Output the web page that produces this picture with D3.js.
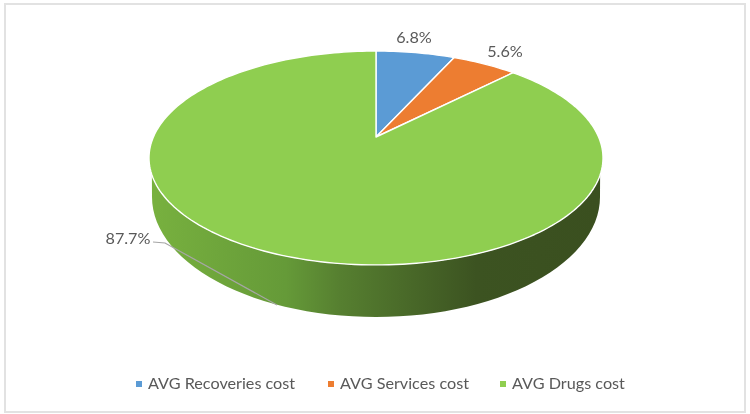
<!DOCTYPE html>
<html lang="en">
<head>
  <meta charset="utf-8" />
  <title>AVG cost split</title>
  <script src="https://d3js.org/d3.v7.min.js"></script>
  <style>
    html, body { margin: 0; background: #fff; }
    svg { display: block; filter: blur(0.4px); }
    text { font-family: Lato, "Open Sans", sans-serif; fill: #595959; }
  </style>
</head>
<body>
  <div id="graph"></div>
  <script>
    // Chart data
    const categories = ["AVG Recoveries cost", "AVG Services cost", "AVG Drugs cost"];
    const shares = [6.8, 5.6, 87.7];
    const labels = ["6.8%", "5.6%", "87.7%"];
    const colors = ["#5b9bd5", "#ed7d31", "#8fce50"];

    const width = 750;
    const height = 414;

    const svg = d3.select("#graph").append("svg")
      .attr("width", width)
      .attr("height", height);

    svg.append("rect")
      .attr("x", 5).attr("y", 4)
      .attr("width", 740).attr("height", 408)
      .attr("fill", "#fff")
      .attr("stroke", "#e2e2e2")
      .attr("stroke-width", 2);

    // The pie lies tilted, so the apex sits above the middle of the ellipse.
    // persp maps a point of the unit disc to the screen.
    const cx = 376;
    const persp = { k: 222.6, a: 76, b: 137, c: -0.196 };
    function project(angle, r) {
      const x = r * Math.sin(angle);
      const y = -r * Math.cos(angle);
      const w = 1 + persp.c * y;
      return [cx + persp.k * x / w, (persp.a * y + persp.b) / w];
    }

    // Slice outline through the projection
    function slicePath(d) {
      const steps = Math.max(2, Math.ceil((d.endAngle - d.startAngle) * 40));
      const t = d3.scaleLinear().domain([0, steps]).range([d.startAngle, d.endAngle]);
      const pts = [project(0, 0)];
      d3.range(steps + 1).forEach(function (i) { pts.push(project(t(i), 1)); });
      return d3.line()(pts) + "Z";
    }

    const pie = d3.pie().sort(null).value(function (d) { return d; });
    const arcs = pie(shares);

    // Wall gradient, light on the left and dark on the right
    const grad = svg.append("defs").append("linearGradient")
      .attr("id", "wall")
      .attr("gradientUnits", "userSpaceOnUse")
      .attr("x1", 150).attr("x2", 603).attr("y1", 0).attr("y2", 0);
    [[0, "#78b13f"], [0.3, "#659a38"], [0.42, "#567f30"], [0.72, "#3c5321"], [1, "#3a4f1f"]]
      .forEach(function (s) {
        grad.append("stop").attr("offset", s[0]).attr("stop-color", s[1]);
      });

    // Wall: lower half of the top rim, back along the bottom rim
    const topRim = { cy: 158, rx: 227, ry: 107 };
    const botRim = { cy: 197, rx: 224, ry: 120 };
    function rimPoint(e, a) {
      return [cx + e.rx * Math.cos(a), e.cy + e.ry * Math.sin(a)];
    }
    const rimAngles = d3.range(0, 181, 3).map(function (v) { return v * Math.PI / 180; });
    const wallStart = Math.asin(17 / topRim.ry);
    const wallAngle = d3.scaleLinear().domain([0, 60]).range([wallStart, Math.PI - wallStart]);
    const wallPts = d3.range(61).map(function (i) { return rimPoint(topRim, wallAngle(i)); })
      .concat(rimAngles.slice().reverse().map(function (a) { return rimPoint(botRim, a); }));
    svg.append("path")
      .attr("d", d3.line()(wallPts) + "Z")
      .attr("fill", "url(#wall)");

    // Top face
    svg.append("g")
      .selectAll("path")
      .data(arcs)
      .enter()
      .append("path")
      .attr("d", slicePath)
      .attr("fill", function (d, i) { return colors[i]; })
      .attr("stroke", "#fff")
      .attr("stroke-width", 1.4)
      .attr("stroke-linejoin", "round");

    // Leader line of the big slice
    svg.append("path")
      .attr("d", d3.line()([[153, 242], [165, 243], [277, 305]]))
      .attr("fill", "none")
      .attr("stroke", "#a6a6a6")
      .attr("stroke-width", 1.2);

    // Data labels
    const labelPos = [[414, 37], [505, 51], [128, 238]];
    svg.append("g")
      .selectAll("text")
      .data(labels)
      .enter()
      .append("text")
      .attr("x", function (d, i) { return labelPos[i][0]; })
      .attr("y", function (d, i) { return labelPos[i][1]; })
      .attr("dy", "0.35em")
      .attr("text-anchor", "middle")
      .attr("font-size", 16.2)
      .text(function (d) { return d; });

    // Legend
    const legendX = [136, 328, 500];
    const legend = svg.append("g")
      .selectAll("g")
      .data(categories)
      .enter()
      .append("g")
      .attr("transform", function (d, i) { return "translate(" + legendX[i] + ",383)"; });
    legend.append("rect")
      .attr("x", 0).attr("y", -2)
      .attr("width", 6).attr("height", 6)
      .attr("fill", function (d, i) { return colors[i]; });
    legend.append("text")
      .attr("x", 12)
      .attr("dy", "0.35em")
      .attr("font-size", 16.2)
      .text(function (d) { return d; });
  </script>
</body>
</html>
